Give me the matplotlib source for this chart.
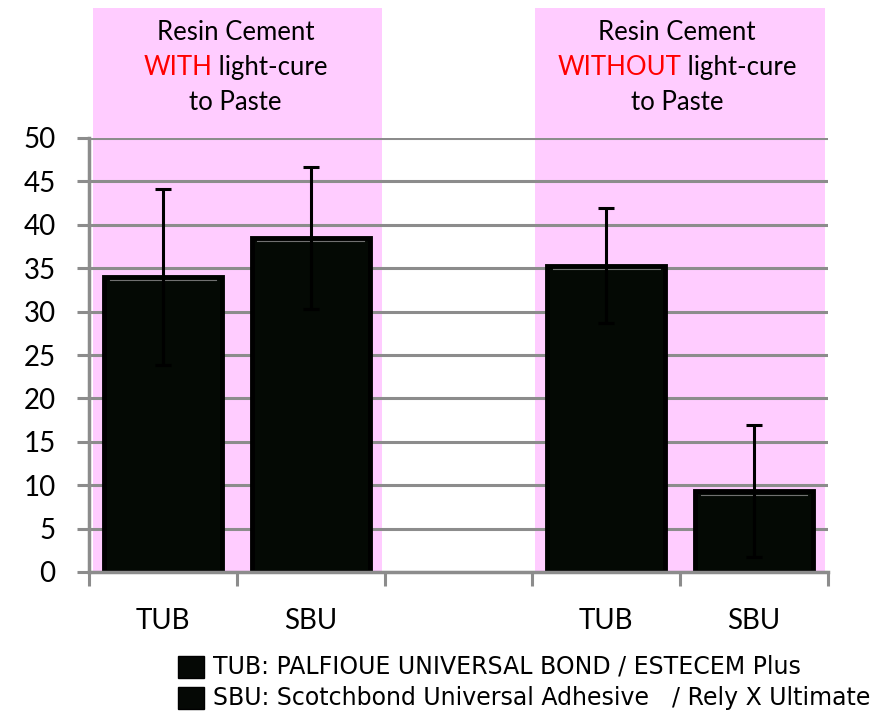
import numpy as np
import matplotlib.pyplot as plt
from matplotlib.patches import Rectangle

# bond strength, mean and SD per adhesive/cement group
groups = ['TUB', 'SBU', '', 'TUB', 'SBU']
means = [34.0, 38.5, np.nan, 35.3, 9.3]
sds = [10.1, 8.2, np.nan, 6.6, 7.6]
yticks = [0, 5, 10, 15, 20, 25, 30, 35, 40, 45, 50]
panel_head = ['WITH', 'WITHOUT']
# legend lines, split where the cement name starts
legend_lines = [('TUB: PALFIOUE UNIVERSAL BOND / ESTECEM Plus', ''),
                ('SBU: Scotchbond Universal Adhesive', '/ Rely X Ultimate')]

pink = '#ffccff'
grid_col = '#8c8c8c'

fig = plt.figure(figsize=(8.72, 7.16), dpi=100)
ax = fig.add_axes([89/872, 1 - 572/716, 739/872, 434/716])

x = np.arange(len(groups))
ax.set_xlim(-0.5, 4.5)
ax.set_ylim(0, 50)

# pink panels behind each half, running up past the axes top
for x0, x1 in [(-0.473, 1.48), (2.52, 4.48)]:
    ax.add_patch(Rectangle((x0, 0), x1 - x0, 65, facecolor=pink, edgecolor='none',
                           zorder=0, clip_on=False))

for yv in yticks:
    ax.axhline(yv, color=grid_col, lw=2.2, zorder=1)

ax.bar(x, means, width=0.8, color='#040904', edgecolor='black', linewidth=3.5, zorder=2)
# thin light line along the top of each bar
for xi, m in zip(x, means):
    if np.isnan(m):
        continue
    ax.plot([xi - 0.36, xi + 0.36], [m - 0.4, m - 0.4], color='#707070', lw=0.8, zorder=3)
ax.errorbar(x, means, yerr=sds, fmt='none', ecolor='black', elinewidth=2.2,
            capsize=6, capthick=2.2, zorder=4)

ax.set_yticks(yticks)
ax.set_yticklabels([str(v) for v in yticks], fontsize=20, family='Lato')
ax.set_xticks(x)
ax.set_xticklabels(groups, fontsize=20, family='Lato')
ax.tick_params(axis='x', length=0, pad=26)
ax.tick_params(axis='y', length=9, width=2.2, color=grid_col, pad=15)
# slot boundary ticks below the x axis
ax.set_xticks(np.arange(-0.5, 5.0, 1.0), minor=True)
ax.tick_params(axis='x', which='minor', length=10, width=2.2, color=grid_col)

for s in ['top', 'right']:
    ax.spines[s].set_visible(False)
for s in ['left', 'bottom']:
    ax.spines[s].set_color(grid_col)
    ax.spines[s].set_linewidth(2.5)
ax.spines['left'].set_zorder(5)

# panel headings; middle line is a red word followed by black text, centred together
renderer = fig.canvas.get_renderer()
hs = 18.5
for cx, word in zip([0.49, 3.48], panel_head):
    ax.text(cx, 62.1, 'Resin Cement', ha='center', va='center', fontsize=hs, family='Lato')
    ax.text(cx, 54.1, 'to Paste', ha='center', va='center', fontsize=hs, family='Lato')
    t1 = ax.text(0, 58.1, word, ha='left', va='center', fontsize=hs, family='Lato', color='red')
    t2 = ax.text(0, 58.1, ' light-cure', ha='left', va='center', fontsize=hs, family='Lato')
    w1 = t1.get_window_extent(renderer).width
    w2 = t2.get_window_extent(renderer).width
    px_per_x = ax.transData.transform((1, 0))[0] - ax.transData.transform((0, 0))[0]
    start = cx - (w1 + w2) / 2 / px_per_x
    t1.set_x(start)
    t2.set_x(start + w1 / px_per_x)

# legend
for i, (left, right) in enumerate(legend_lines):
    yy = 667 + i * 31
    fig.patches.append(Rectangle((178/872, 1 - (yy + 11)/716), 26/872, 22/716,
                                 transform=fig.transFigure, facecolor='#050805',
                                 edgecolor='black', lw=1))
    fig.text(213/872, 1 - yy/716, left, ha='left', va='center', fontsize=17,
             family='DejaVu Sans')
    if right:
        fig.text(672/872, 1 - yy/716, right, ha='left', va='center', fontsize=17,
                 family='DejaVu Sans')

fig.savefig('out.png', dpi=100)
